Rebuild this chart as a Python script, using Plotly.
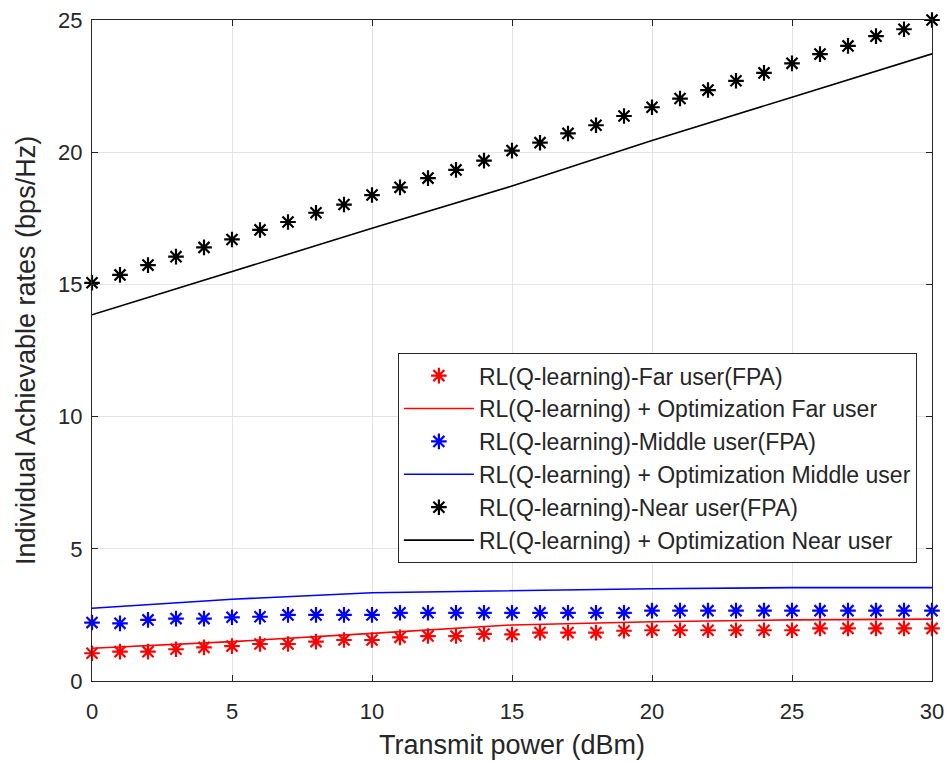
import plotly.graph_objects as go

x_pts = list(range(0, 31))
x_line = [0, 5, 10, 15, 20, 25, 30]

far_fpa = [1.05, 1.11, 1.11, 1.20, 1.27, 1.32, 1.40, 1.40, 1.49, 1.55, 1.55,
           1.65, 1.70, 1.70, 1.78, 1.76, 1.83, 1.83, 1.83, 1.90, 1.92,
           1.92, 1.92, 1.92, 1.92, 1.92, 1.99, 1.99, 1.99, 1.99, 1.99]
far_opt = [1.24, 1.49, 1.80, 2.12, 2.24, 2.31, 2.34]

mid_fpa = [2.21, 2.18, 2.31, 2.36, 2.36, 2.41, 2.43, 2.50, 2.50, 2.50, 2.50,
           2.58, 2.58, 2.58, 2.58, 2.58, 2.58, 2.58, 2.58, 2.58, 2.66,
           2.66, 2.66, 2.66, 2.66, 2.66, 2.66, 2.66, 2.66, 2.66, 2.66]
mid_opt = [2.75, 3.09, 3.34, 3.42, 3.49, 3.53, 3.53]

near_fpa = [15.06, 15.36, 15.73, 16.05, 16.40, 16.70, 17.06, 17.36, 17.71, 18.02, 18.38,
            18.67, 19.02, 19.33, 19.68, 20.06, 20.36, 20.71, 21.02, 21.37, 21.70,
            22.03, 22.35, 22.70, 23.00, 23.36, 23.71, 24.02, 24.39, 24.65, 25.00]
near_opt = [13.85, 15.48, 17.12, 18.72, 20.44, 22.08, 23.72]

x_ticks = [0, 5, 10, 15, 20, 25, 30]
y_ticks = [0, 5, 10, 15, 20, 25]

names = ["RL(Q-learning)-Far user(FPA)",
         "RL(Q-learning) + Optimization Far user",
         "RL(Q-learning)-Middle user(FPA)",
         "RL(Q-learning) + Optimization Middle user",
         "RL(Q-learning)-Near user(FPA)",
         "RL(Q-learning) + Optimization Near user"]

FONT = "Liberation Sans, Arial, Helvetica"
TXT = "#262626"
fig = go.Figure()
series = [(far_fpa, far_opt, "#ff0000"), (mid_fpa, mid_opt, "#0000ff"), (near_fpa, near_opt, "#000000")]
for i, (fpa, opt, c) in enumerate(series):
    fig.add_trace(go.Scatter(x=x_pts, y=fpa, mode="markers", name=names[2 * i],
                             marker=dict(symbol="asterisk-open", size=13, color=c,
                                         line=dict(color=c, width=2.2)),
                             cliponaxis=False))
    fig.add_trace(go.Scatter(x=x_line, y=opt, mode="lines", name=names[2 * i + 1],
                             line=dict(color=c, width=1.6)))

axis_common = dict(showline=True, linecolor=TXT, linewidth=1.2, mirror="ticks",
                   ticks="inside", ticklen=6, tickcolor=TXT, automargin=False,
                   showgrid=True, gridcolor="#e3e3e3", gridwidth=1, zeroline=False,
                   tickfont=dict(family=FONT, size=22, color=TXT))

fig.update_xaxes(range=[0, 30], tickvals=x_ticks, ticklabelstandoff=10,
                 title=dict(text="Transmit power (dBm)", standoff=12,
                            font=dict(family=FONT, size=27, color=TXT)),
                 **axis_common)
fig.update_yaxes(range=[0, 25], tickvals=y_ticks, ticklabelstandoff=4,
                 title=dict(text="Individual Achievable rates (bps/Hz)", standoff=14,
                            font=dict(family=FONT, size=27, color=TXT)),
                 **axis_common)

fig.update_layout(
    width=951, height=764,
    margin=dict(l=92, r=19, t=20, b=83, autoexpand=False),
    paper_bgcolor="white", plot_bgcolor="white",
    showlegend=True,
    legend=dict(x=0.982, xanchor="right", y=0.496, yanchor="top",
                bgcolor="white", bordercolor=TXT, borderwidth=1,
                font=dict(family=FONT, size=23, color=TXT),
                itemwidth=70, tracegroupgap=0),
)

fig.write_html("out.html")
